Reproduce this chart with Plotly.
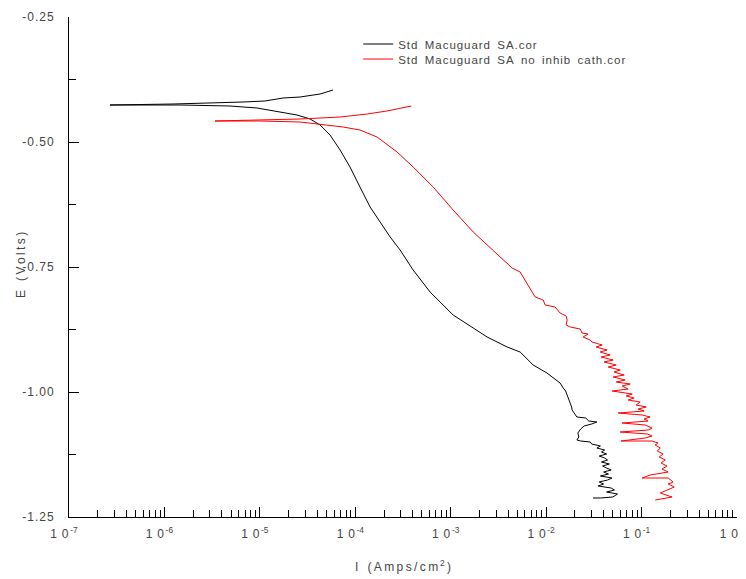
import plotly.graph_objects as go

# ---- data: Std Macuguard SA.cor (black) ----
black_I = [3.1e-2, 3.7e-2, 5.0e-2, 5.6e-2, 4.3e-2, 5.2e-2, 4.8e-2, 3.5e-2, 4.0e-2, 3.6e-2,
           4.4e-2, 4.9e-2, 3.7e-2, 4.5e-2, 4.0e-2, 4.8e-2, 4.3e-2, 3.9e-2, 4.6e-2, 3.8e-2,
           4.4e-2, 4.1e-2, 3.6e-2, 4.3e-2, 3.8e-2, 4.1e-2, 3.4e-2, 3.7e-2, 3.0e-2, 2.9e-2,
           2.3e-2, 2.1e-2, 2.2e-2, 2.15e-2, 2.3e-2, 2.5e-2, 3.0e-2, 3.4e-2, 2.8e-2, 2.6e-2,
           2.1e-2, 2.0e-2, 1.87e-2, 1.85e-2, 1.79e-2, 1.72e-2, 1.66e-2, 1.6e-2, 1.51e-2,
           1.40e-2, 1.02e-2, 7.31e-3, 5.34e-3, 3.90e-3,
           2.41e-3, 1.72e-3, 1.06e-3, 6.08e-4, 4.04e-4, 2.95e-4, 2.32e-4, 1.82e-4, 1.43e-4, 1.12e-4,
           8.81e-5, 6.93e-5, 5.44e-5, 4.28e-5, 3.36e-5, 2.45e-5, 1.37e-5, 9.35e-6, 4.87e-6, 1.46e-6,
           2.69e-7,
           1.23e-6, 6.67e-6, 1.13e-5, 1.75e-5, 2.64e-5, 4.28e-5, 5.85e-5]
black_E = [-1.212, -1.212, -1.210, -1.204, -1.200, -1.196, -1.192, -1.188, -1.184, -1.180,
           -1.176, -1.172, -1.168, -1.164, -1.160, -1.156, -1.152, -1.148, -1.144, -1.140,
           -1.136, -1.132, -1.128, -1.124, -1.120, -1.116, -1.112, -1.108, -1.104, -1.100,
           -1.098, -1.096, -1.090, -1.082, -1.074, -1.068, -1.064, -1.060, -1.058, -1.052,
           -1.050, -1.044, -1.036, -1.030, -1.022, -1.014, -1.006, -0.998, -0.992,
           -0.982, -0.962, -0.946, -0.920, -0.910,
           -0.890, -0.872, -0.846, -0.800, -0.756, -0.716, -0.690, -0.660, -0.630, -0.590,
           -0.550, -0.516, -0.486, -0.466, -0.454, -0.446, -0.438, -0.432, -0.428, -0.426,
           -0.426,
           -0.424, -0.420, -0.418, -0.412, -0.410, -0.404, -0.396]

# ---- data: Std Macuguard SA no inhib cath.cor (red) ----
red_I = [1.39e-1, 2.09e-1, 1.57e-1, 1.85e-1, 2.20e-1, 1.90e-1, 2.14e-1, 1.90e-1, 1.014e-1, 1.23e-1,
         1.90e-1, 1.64e-1, 1.85e-1, 1.60e-1, 1.77e-1, 1.53e-1, 1.68e-1, 1.46e-1, 1.57e-1, 1.39e-1,
         1.49e-1, 1.29e-1, 6.11e-2, 1.09e-1, 1.29e-1, 1.15e-1, 5.97e-2, 1.17e-1, 1.29e-1, 1.09e-1,
         6.26e-2, 1.17e-1, 1.064e-1, 1.23e-1, 1.014e-1, 5.69e-2, 1.064e-1, 9.21e-2, 1.12e-1, 8.77e-2,
         9.66e-2, 7.24e-2, 8.36e-2, 6.90e-2, 7.98e-2, 4.92e-2, 7.24e-2, 6.26e-2, 7.6e-2, 5.42e-2,
         6.73e-2, 5.04e-2, 6.58e-2, 5.16e-2, 5.97e-2, 4.47e-2, 5.42e-2, 4.05e-2, 5.04e-2, 3.77e-2,
         4.69e-2, 3.68e-2, 4.36e-2, 3.34e-2, 3.86e-2, 3.03e-2, 2.89e-2, 2.44e-2, 2.75e-2, 2.38e-2,
         2.27e-2, 1.79e-2, 1.62e-2, 1.66e-2, 1.62e-2, 1.40e-2, 1.30e-2, 1.24e-2, 9.77e-3, 9.31e-3,
         7.67e-3, 6.32e-3, 5.34e-3, 4.40e-3, 2.78e-3, 1.72e-3, 1.06e-3, 6.55e-4, 4.04e-4, 2.74e-4,
         1.69e-4, 1.12e-4, 7.45e-5, 4.28e-5, 2.64e-5, 1.00e-5, 3.39e-6,
         2.64e-5, 6.93e-5, 1.33e-4, 2.15e-4, 3.85e-4]
red_E = [-1.216, -1.210, -1.202, -1.196, -1.190, -1.184, -1.180, -1.172, -1.172, -1.166,
         -1.160, -1.154, -1.148, -1.142, -1.136, -1.130, -1.124, -1.118, -1.112, -1.106,
         -1.102, -1.098, -1.098, -1.092, -1.088, -1.084, -1.080, -1.076, -1.072, -1.066,
         -1.062, -1.058, -1.054, -1.050, -1.046, -1.042, -1.038, -1.034, -1.030, -1.026,
         -1.020, -1.016, -1.012, -1.008, -1.004, -0.998, -0.994, -0.988, -0.984, -0.980,
         -0.976, -0.970, -0.966, -0.960, -0.956, -0.950, -0.946, -0.940, -0.936, -0.930,
         -0.926, -0.920, -0.916, -0.910, -0.906, -0.900, -0.896, -0.890, -0.884, -0.882,
         -0.874, -0.870, -0.866, -0.856, -0.848, -0.842, -0.834, -0.830, -0.826, -0.816,
         -0.810, -0.782, -0.760, -0.752, -0.716, -0.680, -0.636, -0.590, -0.550, -0.520,
         -0.490, -0.476, -0.470, -0.464, -0.460, -0.458, -0.458,
         -0.454, -0.450, -0.444, -0.438, -0.428]

series_names = ["Std Macuguard SA.cor", "Std Macuguard SA no inhib cath.cor"]

# ---- axis ticks ----
x_tickvals = [1e-7, 1e-6, 1e-5, 1e-4, 1e-3, 1e-2, 1e-1, 1e0]
x_exponents = ["-7", "-6", "-5", "-4", "-3", "-2", "-1", "0"]
x_minor = [m * 10.0 ** e for e in range(-7, 0) for m in range(2, 10)]
y_tickvals = [-1.25, -1.00, -0.75, -0.50, -0.25]
y_labels = ["-1.25", "-1.00", "-0.75", "-0.50", "-0.25"]
y_minor = [-1.125, -0.875, -0.625, -0.375]

THIN = "\u2009"
HAIR = "\u200a"
NBSP = "\u00a0"


def spaced(text, gap=HAIR):
    words = text.split(" ")
    return (NBSP + gap + NBSP).join(gap.join(w) for w in words)


FONT = "Liberation Sans Narrow, Liberation Sans, Arial, sans-serif"
TXT = "#444444"

fig = go.Figure()
fig.add_trace(go.Scatter(x=black_I, y=black_E, mode="lines",
                         line=dict(color="black", width=1),
                         name=spaced(series_names[0]), legend="legend"))
fig.add_trace(go.Scatter(x=red_I, y=red_E, mode="lines",
                         line=dict(color="#ff0000", width=1),
                         name=spaced(series_names[1]), legend="legend2"))

# trailing blanks shift each label slightly left of its tick, as in the original
x_ticktext = ["1" + THIN + THIN + "0<sup>" + THIN + e + "</sup>" + NBSP * 3 for e in x_exponents]
y_ticktext = [spaced(s) for s in y_labels]

legend_common = dict(xanchor="left", yanchor="top", bgcolor="rgba(0,0,0,0)",
                     borderwidth=0, font=dict(family=FONT, size=11.5, color=TXT))

# the page body adds an 8 px offset, so the figure is 8 px smaller on each side
fig.update_layout(
    width=738, height=571, autosize=False,
    margin=dict(l=61, r=9, t=9, b=62, autoexpand=False),
    plot_bgcolor="white", paper_bgcolor="white",
    font=dict(family=FONT, size=12, color=TXT),
    showlegend=True,
    legend=dict(x=0.433, y=0.975, **legend_common),
    legend2=dict(x=0.433, y=0.945, **legend_common),
    xaxis=dict(type="log", range=[-7, 0], automargin=False,
               showgrid=False, zeroline=False,
               showline=True, linecolor="black", linewidth=1,
               ticks="inside", ticklen=10, tickcolor="black", tickwidth=1,
               tickmode="array", tickvals=x_tickvals, ticktext=x_ticktext,
               ticklabelstandoff=6, ticklabeloverflow="allow",
               minor=dict(tickmode="array", tickvals=x_minor, ticks="inside",
                          ticklen=7, tickcolor="black", tickwidth=1, showgrid=False),
               tickfont=dict(family=FONT, size=12, color=TXT)),
    yaxis=dict(range=[-1.25, -0.25], automargin=False,
               showgrid=False, zeroline=False,
               showline=True, linecolor="black", linewidth=1,
               ticks="inside", ticklen=10, tickcolor="black", tickwidth=1,
               tickmode="array", tickvals=y_tickvals, ticktext=y_ticktext,
               ticklabelstandoff=12, ticklabeloverflow="allow",
               minor=dict(tickmode="array", tickvals=y_minor, ticks="inside",
                          ticklen=7, tickcolor="black", tickwidth=1, showgrid=False),
               tickfont=dict(family=FONT, size=12, color=TXT)),
    annotations=[
        dict(text=spaced("E (Volts)", THIN), xref="paper", yref="paper",
             x=-0.0719, y=0.504, xanchor="center", yanchor="middle", textangle=-90,
             showarrow=False, font=dict(family=FONT, size=12, color=TXT)),
        dict(text=spaced("I (Amps/cm", THIN) + "<sup>" + THIN + "2</sup>" + THIN + ")",
             xref="paper", yref="paper",
             x=0.5, y=-0.098, xanchor="center", yanchor="middle",
             showarrow=False, font=dict(family=FONT, size=12, color=TXT)),
    ],
)

fig.write_html("out.html")
